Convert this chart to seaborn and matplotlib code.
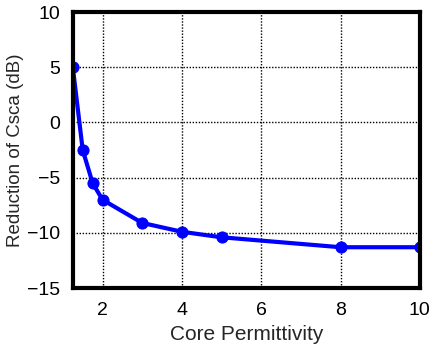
import numpy as np
import pandas as pd
import matplotlib
matplotlib.use("Agg")
import matplotlib.pyplot as plt
import seaborn as sns

# data
permittivity = [1.25, 1.5, 1.75, 2, 3, 4, 5, 8, 10]
reduction_db = [5.0, -2.5, -5.5, -7.0, -9.1, -9.9, -10.4, -11.3, -11.3]
xticks = [2, 4, 6, 8, 10]
yticks = [-15, -10, -5, 0, 5, 10]

df = pd.DataFrame({"Core Permittivity": permittivity, "Reduction": reduction_db})

sns.set_style("white")
plt.rcParams["font.family"] = ["Liberation Sans", "DejaVu Sans"]

fig = plt.figure(figsize=(4.36, 3.45), dpi=100)
ax = fig.add_axes([0.167, 0.165, 0.796, 0.8])

sns.lineplot(data=df, x="Core Permittivity", y="Reduction", ax=ax,
             color="#0000ff", linewidth=3, marker="o", markersize=8,
             markeredgecolor="#0000ff")

ax.set_xlim(1.25, 10)
ax.set_ylim(-15, 10)
ax.set_xticks(xticks)
ax.set_yticks(yticks)
ax.tick_params(direction="in", length=4, width=1, labelsize=14, colors="black")
ax.tick_params(axis="x", pad=10)
ax.tick_params(axis="y", pad=9)
ax.grid(True, color="black", linestyle=(0, (1, 1.2)), linewidth=1)
for s in ax.spines.values():
    s.set_linewidth(3)
    s.set_color("black")

ax.set_xlabel("Core Permittivity", fontsize=15, labelpad=4)
ax.set_ylabel("Reduction of Csca (dB)", fontsize=13.5, labelpad=2)

fig.savefig("out.png", dpi=100)
